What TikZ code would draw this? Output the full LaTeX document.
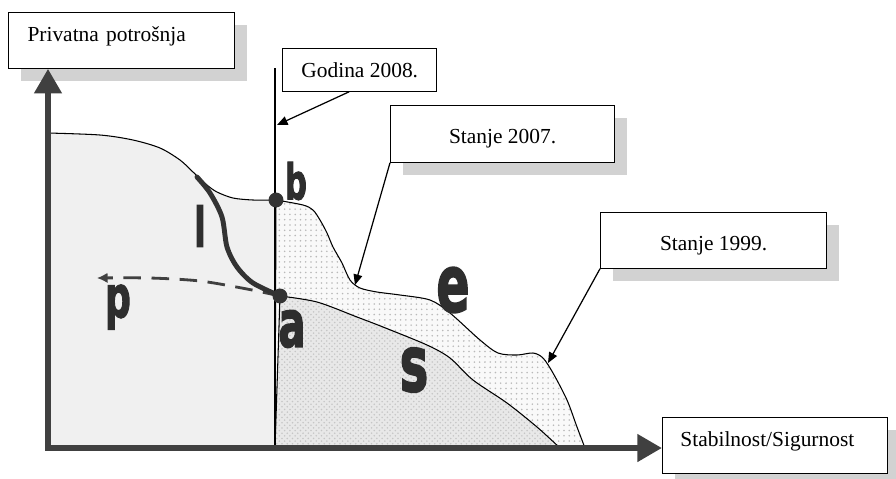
\documentclass[tikz,border=0pt]{standalone}
\usepackage{fontspec}
\setmainfont{Liberation Serif}
\newfontfamily\letterfont{DejaVu Sans}[BoldFeatures={FakeBold=2.5}]
\usetikzlibrary{shapes,arrows.meta,shadows,patterns}
\tikzstyle{labelbox} = [rectangle, draw, fill=white, line width=0.6pt,
    inner sep=0pt, font=\fontsize{12.2}{14}\selectfont]
\tikzstyle{shadowed} = [drop shadow={shadow xshift=7pt, shadow yshift=-7pt,
    fill=gray!35, opacity=1}]
\tikzstyle{axis} = [draw=black!75, line width=3.6pt, line cap=rect,
    -{Triangle[length=14pt,width=15pt]}]
\tikzstyle{callout} = [draw, line width=0.7pt, -{Triangle[length=6pt,width=5pt]}]
\tikzstyle{leftzone} = [fill=gray!12, draw, line width=0.6pt]
\tikzstyle{midzone} = [preaction={fill=gray!5}, pattern=dots,
    pattern color=gray!55, draw, line width=0.6pt]
\tikzstyle{lowzone} = [preaction={fill=gray!18}, pattern=crosshatch dots,
    pattern color=gray!45, draw, line width=0.6pt]
\tikzstyle{lcurve} = [draw=black!80, line width=2.8pt, line cap=round]
\tikzstyle{pline} = [draw=black!75, line width=1.6pt, dash pattern=on 10pt off 6pt,
    -{Latex[length=6pt,width=6pt]}]
\tikzstyle{dot} = [circle, fill=black!80, inner sep=0pt, minimum size=8.5pt]
\tikzset{letter/.style={text=black!82, inner sep=0pt, xscale=0.62,
    font=\letterfont\bfseries\fontsize{#1}{#1}\selectfont}}

\begin{document}
\begin{tikzpicture}[x=0.02cm, y=-0.02cm]
    \useasboundingbox (0,0) rectangle (896,478);
    \coordinate (origin) at (48,448);
    \coordinate (b) at (276,200);
    \coordinate (a) at (280,296);
    \coordinate (ytop) at (275,68);

    % zones under the curves
    \path[leftzone] (48,448) -- plot[smooth] coordinates {(48,133) (100,135) (133,140)
        (160,148) (180,160) (193,172) (207,185) (217,192) (233,198) (253,200) (b)}
        -- (275,448) -- cycle;
    \path[midzone] (275,448) -- plot[smooth] coordinates {(b) (303,205) (313,210)
        (320,220) (327,233) (333,247) (342,263) (350,280) (360,288) (377,292)
        (400,295) (430,300) (450,313) (480,340) (498,353) (517,355) (533,353)
        (543,358) (553,373) (567,400) (577,427) (585,448)} -- cycle;
    \path[lowzone] (275,448) -- plot[smooth] coordinates {(a) (317,302) (357,317)
        (383,327) (427,345) (450,358) (473,380) (507,403) (537,427) (560,448)} -- cycle;
    \draw[line width=0.6pt] (ytop) -- (ytop |- origin);

    \node[labelbox, shadowed, anchor=north west, inner xsep=10.8pt, text width=107pt,
        align=left, text height=16.4pt, text depth=15.3pt] (ylab) at (8,12) {Privatna potrošnja};
    \node[labelbox, shadowed, anchor=north west, inner xsep=10.2pt, text width=107.7pt,
        align=left, text height=16.4pt, text depth=15.3pt] (xlab) at (662,417) {Stabilnost/Sigurnost};
    \node[labelbox, anchor=north west, minimum width=87.9pt,
        text height=16.4pt, text depth=7.9pt] (god) at (282,48) {Godina 2008.};
    \node[labelbox, shadowed, anchor=north west, minimum width=127.6pt,
        text height=21.5pt, text depth=10.8pt] (s07) at (390,105) {Stanje 2007.};
    \node[labelbox, shadowed, anchor=north west, minimum width=128.7pt,
        text height=21.5pt, text depth=10.2pt] (s99) at (600,212) {Stanje 1999.};

    \draw[axis] (origin) -- (origin |- ylab.south);
    \draw[axis] (origin) -- (origin -| xlab.west);

    % shift from a
    \coordinate (pTip) at (97,278);
    \draw[pline] plot[smooth] coordinates {(a) (247,289) (200,281) (150,278) (pTip)};
    \draw[lcurve] plot[smooth] coordinates {(197,177) (210,193) (222,217) (227,247)
        (237,267) (253,283) (a)};
    \node[dot] (ptB) at (b) {};
    \node[dot] (ptA) at (a) {};

    \node[letter=28pt] (lb) at (296,181) {b};
    \node[letter=31pt] (ll) at (200,226) {l};
    \node[letter=33pt] (lp) at (118,307) {p};
    \node[letter=37pt] (la) at (292,329) {a};
    \node[letter=44pt] (ls) at (414,370) {s};
    \node[letter=45pt] (le) at (453,290) {e};

    % callouts
    \coordinate (t08) at (277,125);
    \coordinate (t07) at (355,285);
    \coordinate (t99) at (548,363);
    \draw[callout] ([xshift=-6pt]god.south) -- (t08);
    \draw[callout] (s07.south west) -- (t07);
    \draw[callout] (s99.south west) -- (t99);
\end{tikzpicture}
\end{document}
